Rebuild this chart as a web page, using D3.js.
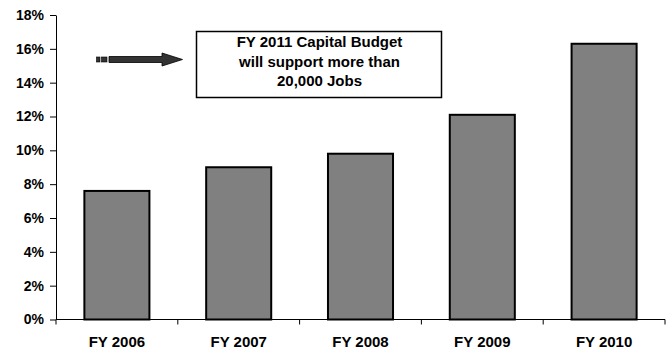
<!DOCTYPE html>
<html>
<head>
<meta charset="utf-8">
<script src="https://cdnjs.cloudflare.com/ajax/libs/d3/7.8.5/d3.min.js"></script>
<style>
  html, body { margin: 0; padding: 0; background: #fff; }
  text { font-family: Arial, "Liberation Sans", sans-serif; font-weight: bold; fill: #000; }
</style>
</head>
<body>
<div id="chart"></div>
<script>
const years = ['FY 2006', 'FY 2007', 'FY 2008', 'FY 2009', 'FY 2010'];
const shares = [7.6, 9.0, 9.8, 12.1, 16.3];
const yTicks = [0, 2, 4, 6, 8, 10, 12, 14, 16, 18];
const noteLines = ['FY 2011 Capital Budget', 'will support more than', '20,000 Jobs'];

const W = 667, H = 352;
const margin = { top: 15, right: 2, bottom: 32.5, left: 56 };
const width = W - margin.left - margin.right;
const height = H - margin.top - margin.bottom;

const svg = d3.select('#chart').append('svg')
  .attr('width', W)
  .attr('height', H);
const g = svg.append('g')
  .attr('transform', `translate(${margin.left},${margin.top})`);

const x = d3.scaleBand().domain(years).range([0, width])
  .paddingInner(0.466).paddingOuter(0.233);
const y = d3.scaleLinear().domain([0, 18]).range([height, 0]);

// bars
g.selectAll('.bar')
  .data(years)
  .enter().append('rect')
  .attr('class', 'bar')
  .attr('x', d => x(d))
  .attr('y', (d, i) => y(shares[i]))
  .attr('width', x.bandwidth())
  .attr('height', (d, i) => height - y(shares[i]))
  .style('fill', '#808080')
  .style('stroke', '#000')
  .style('stroke-width', 2);

// y axis
const yAxis = d3.axisLeft(y)
  .tickValues(yTicks)
  .tickFormat(d => d + '%')
  .tickSizeInner(6)
  .tickSizeOuter(0)
  .tickPadding(6);
const yG = g.append('g').attr('class', 'y axis').call(yAxis);
yG.selectAll('text').style('font-size', '14px');
yG.selectAll('line, path').style('stroke', '#000').style('stroke-width', 1);

// x axis, ticks between categories
const xG = g.append('g').attr('class', 'x axis')
  .attr('transform', `translate(0,${height})`);
xG.append('line')
  .attr('x1', 0).attr('x2', width)
  .style('stroke', '#000');
const step = x.step();
xG.selectAll('.tick-mark')
  .data(d3.range(years.length + 1))
  .enter().append('line')
  .attr('x1', i => i * step).attr('x2', i => i * step)
  .attr('y1', 0).attr('y2', 5)
  .style('stroke', '#000');
xG.selectAll('.label')
  .data(years)
  .enter().append('text')
  .attr('x', d => x(d) + x.bandwidth() / 2)
  .attr('y', 27)
  .style('text-anchor', 'middle')
  .style('font-size', '15px')
  .text(d => d);

// arrow pointing to the note
const arrow = svg.append('g').attr('class', 'arrow');
arrow.append('rect').attr('x', 96.5).attr('y', 57).attr('width', 3.5).attr('height', 5)
  .style('fill', '#333').style('stroke', '#000').style('stroke-width', 0.6);
arrow.append('rect').attr('x', 101.5).attr('y', 57).attr('width', 5.5).attr('height', 5)
  .style('fill', '#333').style('stroke', '#000').style('stroke-width', 0.6);
arrow.append('path')
  .attr('d', 'M109,56.5H162V53L182.5,59.5L162,66V62.5H109Z')
  .style('fill', '#333').style('stroke', '#000').style('stroke-width', 0.8);

// note box
const note = svg.append('g').attr('class', 'note');
note.append('rect')
  .attr('x', 196.5).attr('y', 31.5)
  .attr('width', 245).attr('height', 66)
  .style('fill', '#fff')
  .style('stroke', '#000')
  .style('stroke-width', 1.5);
note.selectAll('text')
  .data(noteLines)
  .enter().append('text')
  .attr('x', 319.5)
  .attr('y', (d, i) => 47 + i * 19.5)
  .style('text-anchor', 'middle')
  .style('font-size', '15px')
  .text(d => d);
</script>
</body>
</html>
